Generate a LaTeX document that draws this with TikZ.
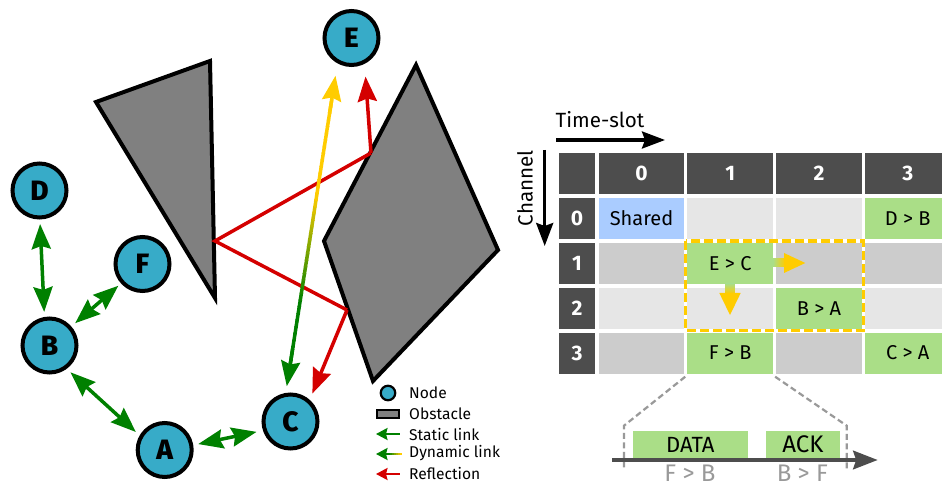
\documentclass[tikz,border=0pt]{standalone}
\usepackage{fontspec}
\setmainfont{Fira Sans}
\newfontfamily\heavyfont{Fira Sans ExtraBold}
\usetikzlibrary{arrows.meta,calc}
\definecolor{linkgreen}{HTML}{008000}
\definecolor{linkyellow}{HTML}{FFCC00}
\definecolor{linkred}{HTML}{D40000}
\definecolor{nodeblue}{HTML}{37ABC8}
\definecolor{obstgray}{HTML}{808080}
\definecolor{hdrdark}{HTML}{4D4D4D}
\definecolor{celllight}{HTML}{E6E6E6}
\definecolor{cellmid}{HTML}{CCCCCC}
\definecolor{cellgreen}{HTML}{AADE87}
\definecolor{cellblue}{HTML}{AACCFF}
\definecolor{dashgray}{HTML}{999999}
\tikzset{
  x=1pt,y=-1pt,
  station/.style={circle,draw=black,line width=4pt,fill=nodeblue,minimum size=54pt,inner sep=0pt,font=\fontsize{28}{28}\heavyfont,text=black},
  obstacle/.style={draw=black,line width=4pt,fill=obstgray,line join=miter},
  bighead/.tip={Stealth[length=25pt,width=19pt,inset=3pt]},
  smallhead/.tip={Stealth[length=11.5pt,width=12pt,inset=1.5pt]},
  staticlink/.style={draw=linkgreen,line width=3.5pt,{bighead}-{bighead}},
  reflect/.style={draw=linkred,line width=3.5pt,line join=miter},
  cell/.style={minimum height=41pt,inner sep=0pt,font=\fontsize{20}{20}\selectfont,text=black},
  cola/.style={cell,minimum width=85.5pt},
  hdr/.style={minimum height=41pt,inner sep=0pt,fill=hdrdark,text=white,font=\fontsize{21}{21}\selectfont\bfseries},
  hcol/.style={hdr,minimum width=85.5pt,minimum height=41.5pt},
  legtext/.style={anchor=west,inner sep=0pt,font=\fontsize{15.6}{15.6}\selectfont},
  legarrow/.style={line width=2.2pt,{smallhead}-},
  caplabel/.style={inner sep=0pt,font=\fontsize{20.6}{20.6}\selectfont},
  grayconn/.style={draw=dashgray,line width=2.2pt,dash pattern=on 6pt off 3.5pt},
}
\begin{document}
\begin{tikzpicture}
\clip (0,0) rectangle (942,486);
% obstacles
\draw[obstacle] (96,102) -- (210,61) -- (215,298) -- cycle;
\draw[obstacle] (416,65) -- (498,250) -- (373,381) -- (324,241) -- cycle;
% stations
\node[station,outer sep=14pt] (E) at (351.5,38) {E};
\node[station,outer sep=6.5pt] (D) at (39.5,190.5) {D};
\node[station,outer sep=5.5pt] (F) at (142.5,264) {F};
\node[station,outer sep=7pt] (B) at (49.5,345.5) {B};
\node[station,outer sep=8.5pt] (C) at (290.5,421.5) {C};
\node[station,outer sep=7pt] (A) at (164.7,450) {A};
% reflection
\coordinate (r1) at (371,153);
\coordinate (r2) at (215,241);
\coordinate (r3) at (347,310);
\draw[reflect,-{bighead}] (r1) -- (E.-70);
\draw[reflect] (r1) -- (r2) -- (r3);
\draw[reflect,-{bighead}] (r3) -- (C.52);
% static links
\draw[staticlink] (D.-89) -- (B.99);
\draw[staticlink] (F.-138) -- (B.41);
\draw[staticlink] (B.-52) -- (A.148);
\draw[staticlink] (A.10) -- (C.197);
% dynamic link
\coordinate (dynE) at (E.-113);
\coordinate (dynC) at (C.96);
\draw[line width=3.5pt,draw=linkyellow,-{bighead}] ($(dynC)!0.88!(dynE)$) -- (dynE);
\draw[line width=3.5pt,draw=linkgreen,-{bighead}] ($(dynC)!0.12!(dynE)$) -- (dynC);
\foreach \i in {0,...,39}{
  \pgfmathsetmacro{\ta}{0.06+\i/40*0.86}
  \pgfmathsetmacro{\tb}{0.06+(\i+1.2)/40*0.86}
  \pgfmathsetmacro{\pp}{min(100,max(0,\ta*290-75))}
  \draw[draw=linkyellow!\pp!linkgreen,line width=3.5pt] ($(dynC)!\ta!(dynE)$) -- ($(dynC)!\tb!(dynE)$);
}
% legend
\node[circle,draw=black,line width=2.2pt,fill=nodeblue,minimum size=14.5pt,inner sep=0pt] (lgN) at (388,393) {};
\node[draw=black,line width=2.2pt,fill=obstgray,minimum width=22pt,minimum height=8.5pt,inner sep=0pt] (lgO) at (388,414) {};
\coordinate (lgS) at (376,434);
\coordinate (lgD) at (376,454);
\coordinate (lgR) at (376,474);
\draw[legarrow,draw=linkgreen] (lgS) -- ++(24,0);
\foreach \i in {0,...,11}{
  \pgfmathsetmacro{\pp}{min(100,max(0,(\i-5)*100/6))}
  \draw[draw=linkyellow!\pp!linkgreen,line width=2.2pt] ($(lgD)+(\i*2+1.5,0)$) -- ++(2.3,0);
}
\draw[legarrow,draw=linkgreen] (lgD) -- ++(12,0);
\draw[legarrow,draw=linkred] (lgR) -- ++(24,0);
\node[legtext] (ltN) at (409,393) {Node};
\node[legtext] (ltO) at (409,414) {Obstacle};
\node[legtext] (ltS) at (409,434.5) {Static link};
\node[legtext] (ltD) at (409,453) {Dynamic link};
\node[legtext] (ltR) at (409,474) {Reflection};
% axis labels
\node[caplabel,anchor=west] (tslot) at (555.5,120) {Time-slot};
\coordinate (ts0) at (556,140);
\coordinate (ts1) at (665,140);
\draw[line width=3.2pt,-{Stealth[length=23pt,width=17pt,inset=3pt]}] (ts0) -- (ts1);
\node[caplabel,rotate=90] (chan) at (525,188) {Channel};
\coordinate (ch0) at (544.7,150);
\coordinate (ch1) at (544.7,246);
\draw[line width=3.2pt,-{Stealth[length=23pt,width=17pt,inset=3pt]}] (ch0) -- (ch1);
% header row
\node[hdr,minimum width=36pt,minimum height=41.5pt] (h) at (577,173.5) {};
\node[hcol] (h0) at (641.5,173.5) {0};
\node[hcol] (h1) at (730.2,173.5) {1};
\node[hcol] (h2) at (819,173.5) {2};
\node[hcol] (h3) at (907.7,173.5) {3};
% row heads
\node[hdr,minimum width=36pt] (v0) at (577,218.2) {0};
\node[hdr,minimum width=36pt] (v1) at (577,263.2) {1};
\node[hdr,minimum width=36pt] (v2) at (577,308.2) {2};
\node[hdr,minimum width=36pt] (v3) at (577,353) {3};
% row 0
\node[cola,fill=cellblue] (c00) at (641.5,218.2) {Shared};
\node[cola,fill=celllight] (c01) at (730.2,218.2) {};
\node[cola,fill=celllight] (c02) at (819,218.2) {};
\node[cola,fill=cellgreen] (c03) at (907.7,218.2) {D > B};
% row 1
\node[cola,fill=cellmid] (c10) at (641.5,263.2) {};
\node[cola,fill=cellgreen] (c11) at (730.2,263.2) {E > C};
\node[cola,fill=cellmid] (c12) at (819,263.2) {};
\node[cola,fill=cellmid] (c13) at (907.7,263.2) {};
% row 2
\node[cola,fill=celllight] (c20) at (641.5,308.2) {};
\node[cola,fill=celllight] (c21) at (730.2,308.2) {};
\node[cola,fill=cellgreen] (c22) at (819,308.2) {B > A};
\node[cola,fill=celllight] (c23) at (907.7,308.2) {};
% row 3
\node[cola,fill=cellmid] (c30) at (641.5,353) {};
\node[cola,fill=cellgreen] (c31) at (730.2,353) {F > B};
\node[cola,fill=cellmid] (c32) at (819,353) {};
\node[cola,fill=cellgreen] (c33) at (907.7,353) {C > A};
% conflict arrows
\shade[left color=cellgreen,right color=linkyellow] (773,259) rectangle (785,267);
\fill[linkyellow] (784,253) -- (805.3,263) -- (784,273) -- cycle;
\shade[top color=cellgreen,bottom color=linkyellow] (725.5,283.7) rectangle (734.5,294);
\fill[linkyellow] (719.3,293) -- (740.7,293) -- (730,315) -- cycle;
% conflict frame
\draw[draw=linkyellow,line width=3.2pt,dash pattern=on 9pt off 4pt] (685.7,241) rectangle (863.3,330.7);
% zoom connectors
\node[fill=cellgreen,minimum width=115.3pt,minimum height=27.3pt,inner sep=0pt,font=\fontsize{22}{22}\selectfont] (data) at (690.3,444.7) {DATA};
\node[fill=cellgreen,minimum width=74pt,minimum height=27.3pt,inner sep=0pt,font=\fontsize{24}{24}\selectfont] (ack) at (803,444.7) {ACK};
\draw[grayconn] (c31.south west) ++(-2,3) -- (624,425.7) -- (624,470);
\draw[grayconn] (c31.south east) ++(2,3) -- (846.7,425.7) -- (846.7,470);
\coordinate (ax0) at (612,460);
\coordinate (ax1) at (877.7,460);
\draw[line width=4pt,draw=hdrdark,-{Stealth[length=24.5pt,width=18.5pt,inset=3pt]}] (ax0) -- (ax1);
\node[caplabel,text=dashgray,font=\fontsize{24}{24}\selectfont] (fb) at (690,473.5) {F > B};
\node[caplabel,text=dashgray,font=\fontsize{24}{24}\selectfont] (bf) at (802.3,473.5) {B > F};
\end{tikzpicture}
\end{document}
